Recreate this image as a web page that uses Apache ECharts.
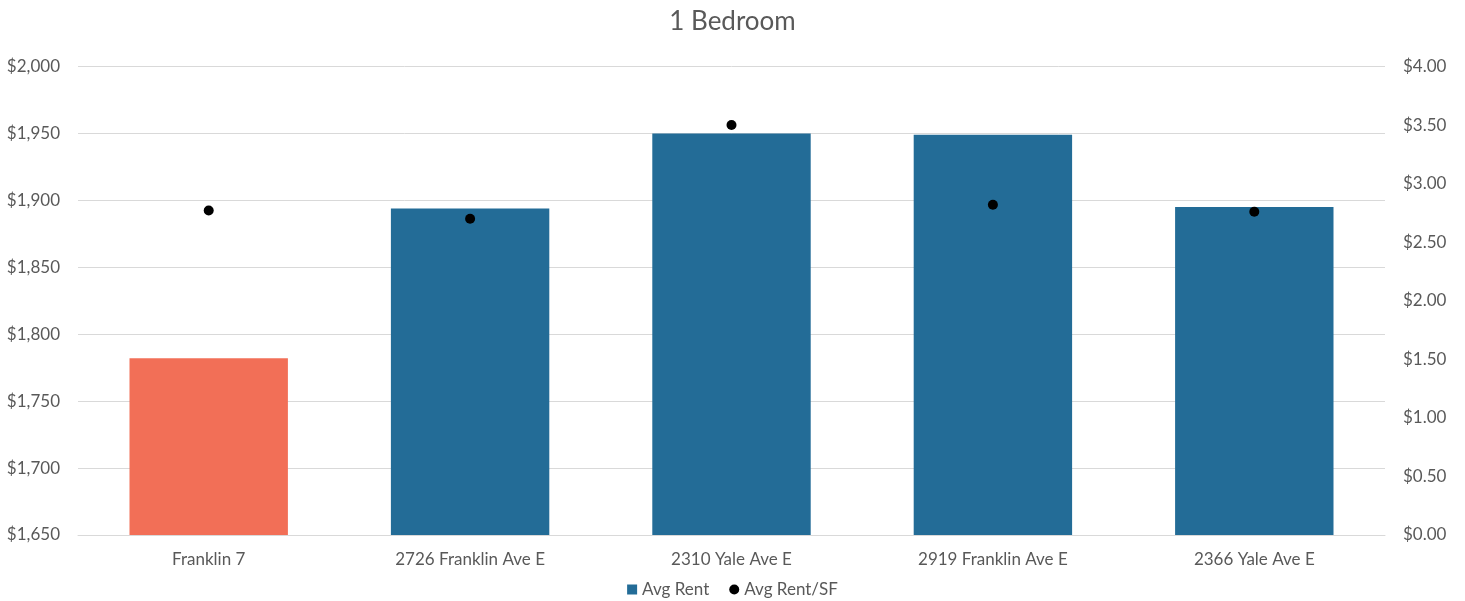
<!DOCTYPE html>
<html><head><meta charset="utf-8">
<script src="https://cdn.jsdelivr.net/npm/echarts@6/dist/echarts.min.js"></script>
<style>html,body{margin:0;padding:0;background:#fff}#c{width:1465px;height:601px}</style>
</head><body><div id="c"></div>
<script>
const categories = ["Franklin 7", "2726 Franklin Ave E", "2310 Yale Ave E", "2919 Franklin Ave E", "2366 Yale Ave E"];
const avgRent = [1782, 1894, 1950, 1949, 1895];
const avgRentSF = [2.77, 2.70, 3.50, 2.82, 2.76];
const leftTicks = {min: 1650, max: 2000, interval: 50};
const rightTicks = {min: 0, max: 4, interval: 0.5};

const BLUE = '#236C97', ORANGE = '#F26F57', TXT = '#595959', FONT = 'Lato';
const FS = 17;
const chart = echarts.init(document.getElementById('c'));
chart.setOption({
  animation: false,
  textStyle: {fontFamily: FONT},
  title: {text: '1 Bedroom', left: 'center', top: 4, textStyle: {fontFamily: FONT, fontSize: 26, fontWeight: 'normal', color: TXT}},
  grid: {left: 78, right: 80, top: 66.5, bottom: 66, containLabel: false},
  legend: {bottom: -2, left: 'center', itemWidth: 10, itemHeight: 10, itemGap: 20,
    textStyle: {fontFamily: FONT, fontSize: FS, color: TXT},
    data: [{name: 'Avg Rent', icon: 'rect'}, {name: 'Avg Rent/SF', icon: 'circle'}]},
  xAxis: {type: 'category', data: categories,
    axisLine: {lineStyle: {color: '#d9d9d9', width: 1}}, axisTick: {show: false},
    axisLabel: {color: TXT, fontSize: FS, margin: 16, fontFamily: FONT}},
  yAxis: [
    {type: 'value', min: leftTicks.min, max: leftTicks.max, interval: leftTicks.interval,
      axisLine: {show: false}, axisTick: {show: false},
      splitLine: {lineStyle: {color: '#d9d9d9', width: 1}},
      axisLabel: {color: TXT, fontSize: FS, margin: 18, fontFamily: FONT,
        formatter: v => '$' + v.toLocaleString('en-US')}},
    {type: 'value', min: rightTicks.min, max: rightTicks.max, interval: rightTicks.interval,
      axisLine: {show: false}, axisTick: {show: false}, splitLine: {show: false},
      axisLabel: {color: TXT, fontSize: FS, margin: 18, fontFamily: FONT,
        formatter: v => '$' + v.toFixed(2)}}
  ],
  series: [
    {name: 'Avg Rent', type: 'bar', yAxisIndex: 0, data: avgRent, barWidth: '60.6%', color: BLUE,
      itemStyle: {color: p => p.dataIndex === 0 ? ORANGE : BLUE}},
    {name: 'Avg Rent/SF', type: 'scatter', yAxisIndex: 1, data: avgRentSF, symbolSize: 10, color: '#000',
      itemStyle: {color: '#000', opacity: 1}}
  ]
});
</script></body></html>
